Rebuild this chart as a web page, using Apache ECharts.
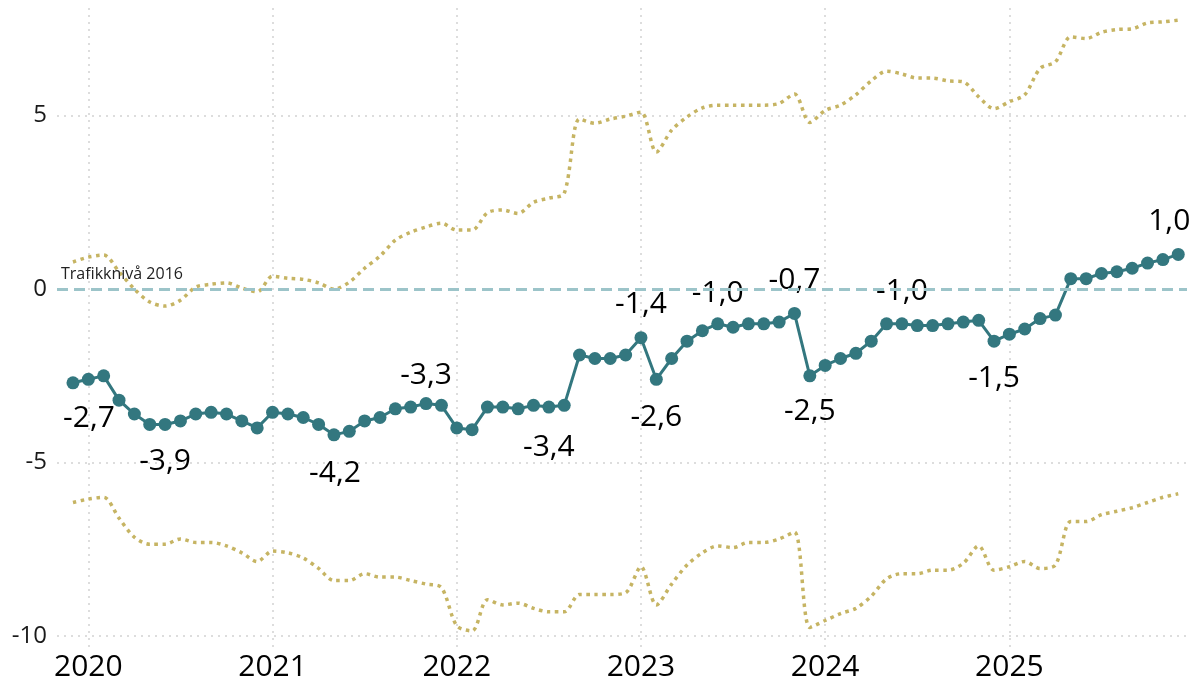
<!DOCTYPE html>
<html>
<head>
<meta charset="utf-8">
<script src="https://cdn.jsdelivr.net/npm/echarts@6/dist/echarts.min.js"></script>
<style>
html,body{margin:0;padding:0;background:#fff;}
#chart{width:1196px;height:685px;}
</style>
</head>
<body>
<div id="chart"></div>
<script>
// Months: Dec 2019 .. Dec 2025
const months = [
  '2019-12',
  '2020-01','2020-02','2020-03','2020-04','2020-05','2020-06','2020-07','2020-08','2020-09','2020-10','2020-11','2020-12',
  '2021-01','2021-02','2021-03','2021-04','2021-05','2021-06','2021-07','2021-08','2021-09','2021-10','2021-11','2021-12',
  '2022-01','2022-02','2022-03','2022-04','2022-05','2022-06','2022-07','2022-08','2022-09','2022-10','2022-11','2022-12',
  '2023-01','2023-02','2023-03','2023-04','2023-05','2023-06','2023-07','2023-08','2023-09','2023-10','2023-11','2023-12',
  '2024-01','2024-02','2024-03','2024-04','2024-05','2024-06','2024-07','2024-08','2024-09','2024-10','2024-11','2024-12',
  '2025-01','2025-02','2025-03','2025-04','2025-05','2025-06','2025-07','2025-08','2025-09','2025-10','2025-11','2025-12'
];

const trafficIndex = [
  -2.7,
  -2.6, -2.5, -3.2, -3.6, -3.9, -3.9, -3.8, -3.6, -3.55, -3.6, -3.8, -4.0,
  -3.55, -3.6, -3.7, -3.9, -4.2, -4.1, -3.8, -3.7, -3.45, -3.4, -3.3, -3.35,
  -4.0, -4.05, -3.4, -3.4, -3.45, -3.35, -3.4, -3.35, -1.9, -2.0, -2.0, -1.9,
  -1.4, -2.6, -2.0, -1.5, -1.2, -1.0, -1.1, -1.0, -1.0, -0.95, -0.7, -2.5,
  -2.2, -2.0, -1.85, -1.5, -1.0, -1.0, -1.05, -1.05, -1.0, -0.95, -0.9, -1.5,
  -1.3, -1.15, -0.85, -0.75, 0.3, 0.3, 0.45, 0.5, 0.6, 0.75, 0.85, 1.0
];

const upperBound = [
  0.78,
  0.92, 0.98, 0.5, 0.0, -0.37, -0.49, -0.32, 0.06, 0.14, 0.18, 0.03, -0.08,
  0.37, 0.31, 0.28, 0.18, 0.0, 0.2, 0.6, 0.95, 1.41, 1.64, 1.79, 1.9,
  1.7, 1.7, 2.2, 2.28, 2.18, 2.5, 2.62, 2.76, 4.9, 4.78, 4.9, 4.98,
  5.1, 3.95, 4.58, 4.96, 5.22, 5.3, 5.3, 5.3, 5.3, 5.35, 5.62, 4.8,
  5.15, 5.3, 5.6, 6.0, 6.28, 6.2, 6.08, 6.08, 6.0, 5.97, 5.54, 5.2,
  5.4, 5.6, 6.36, 6.55, 7.27, 7.22, 7.4, 7.48, 7.5, 7.67, 7.7, 7.75
];

const lowerBound = [
  -6.15,
  -6.05, -6.0, -6.6, -7.15, -7.35, -7.35, -7.2, -7.3, -7.3, -7.4, -7.6, -7.85,
  -7.55, -7.6, -7.75, -8.05, -8.4, -8.4, -8.2, -8.3, -8.3, -8.4, -8.5, -8.6,
  -9.7, -9.85, -8.95, -9.1, -9.05, -9.2, -9.3, -9.3, -8.8, -8.8, -8.8, -8.75,
  -8.0, -9.1, -8.5, -7.95, -7.6, -7.4, -7.45, -7.3, -7.3, -7.2, -7.0, -9.75,
  -9.55, -9.35, -9.2, -8.85, -8.35, -8.2, -8.2, -8.1, -8.1, -7.9, -7.4, -8.1,
  -8.0, -7.85, -8.05, -7.95, -6.7, -6.7, -6.5, -6.4, -6.3, -6.15, -6.0, -5.9
];

const yearTickIdx = [1, 13, 25, 37, 49, 61];
const yearLabels = ['2020', '2021', '2022', '2023', '2024', '2025'];
const yTickValues = [-10, -5, 0, 5];
const yGridValues = [-10, -5, 5];
const baselineLabel = 'Trafikknivå 2016';

// Which points get a value label, and where it sits relative to the point [dx, dy]
const labelOffsets = {
  0: [16, 36], 6: [0, 37], 17: [1, 39], 23: [0, -28], 31: [0, 40],
  37: [0, -33], 38: [0, 38], 42: [0, -30], 47: [0, -33], 48: [0, 36],
  54: [0, -32], 60: [0, 37], 72: [-9, -33]
};

const FONT = 'Open Sans';
const TEAL = '#33777f';
const GOLD = '#c6b463';
const GRID = { type: [2, 5], color: '#d2d2d2', width: 1.5 };

const fmt = v => v.toFixed(1).replace('.', ',');

const mainData = trafficIndex.map((v, i) => {
  const item = { value: [i, v] };
  if (labelOffsets[i]) {
    item.label = {
      show: true, position: 'inside', offset: labelOffsets[i],
      formatter: fmt(v), fontSize: 30, fontFamily: FONT, color: '#000'
    };
  }
  return item;
});
const upperData = upperBound.map((v, i) => [i, v]);
const lowerData = lowerBound.map((v, i) => [i, v]);

const chart = echarts.init(document.getElementById('chart'));
chart.setOption({
  animation: false,
  backgroundColor: '#fff',
  grid: { left: 57, right: 9, top: 8, bottom: 35, containLabel: false },
  xAxis: {
    type: 'value', min: -1.04, max: 72.57,
    axisLine: { show: false },
    axisTick: { show: false, customValues: yearTickIdx },
    axisLabel: {
      customValues: yearTickIdx,
      formatter: v => yearLabels[yearTickIdx.indexOf(v)] || '',
      fontSize: 30, fontFamily: FONT, color: '#000', margin: 2
    },
    splitLine: { show: true, lineStyle: GRID }
  },
  yAxis: [
    {
      type: 'value', min: -10.4, max: 8.1,
      axisLine: { show: false },
      axisTick: { show: false, customValues: yTickValues },
      axisLabel: {
        customValues: yTickValues,
        fontSize: 24, fontFamily: FONT, color: '#1a1a1a', margin: 10
      },
      splitLine: { show: false }
    },
    {
      type: 'value', min: -10.4, max: 8.1, position: 'left',
      axisLine: { show: false },
      axisTick: { show: false, customValues: yGridValues },
      axisLabel: { show: false, customValues: yGridValues },
      splitLine: { show: true, lineStyle: GRID }
    }
  ],
  series: [
    {
      name: 'upper', type: 'line', data: upperData, showSymbol: false, smooth: 0.3,
      lineStyle: { color: GOLD, width: 3.5, type: [3.5, 4.5] }, z: 2, silent: true,
      markLine: {
        silent: true, symbol: ['none', 'none'],
        lineStyle: { color: '#9cc4c9', width: 3, type: [11, 6] },
        label: {
          show: true, position: 'insideStartTop', formatter: baselineLabel,
          fontSize: 16, fontFamily: FONT, color: '#222', distance: [4, 7]
        },
        data: [{ yAxis: 0 }]
      }
    },
    {
      name: 'lower', type: 'line', data: lowerData, showSymbol: false, smooth: 0.3,
      lineStyle: { color: GOLD, width: 3.5, type: [3.5, 4.5] }, z: 2, silent: true
    },
    {
      name: 'index', type: 'line', data: mainData, symbol: 'circle', symbolSize: 13,
      lineStyle: { color: TEAL, width: 3 }, itemStyle: { color: TEAL }, z: 4
    }
  ]
});
</script>
</body>
</html>
